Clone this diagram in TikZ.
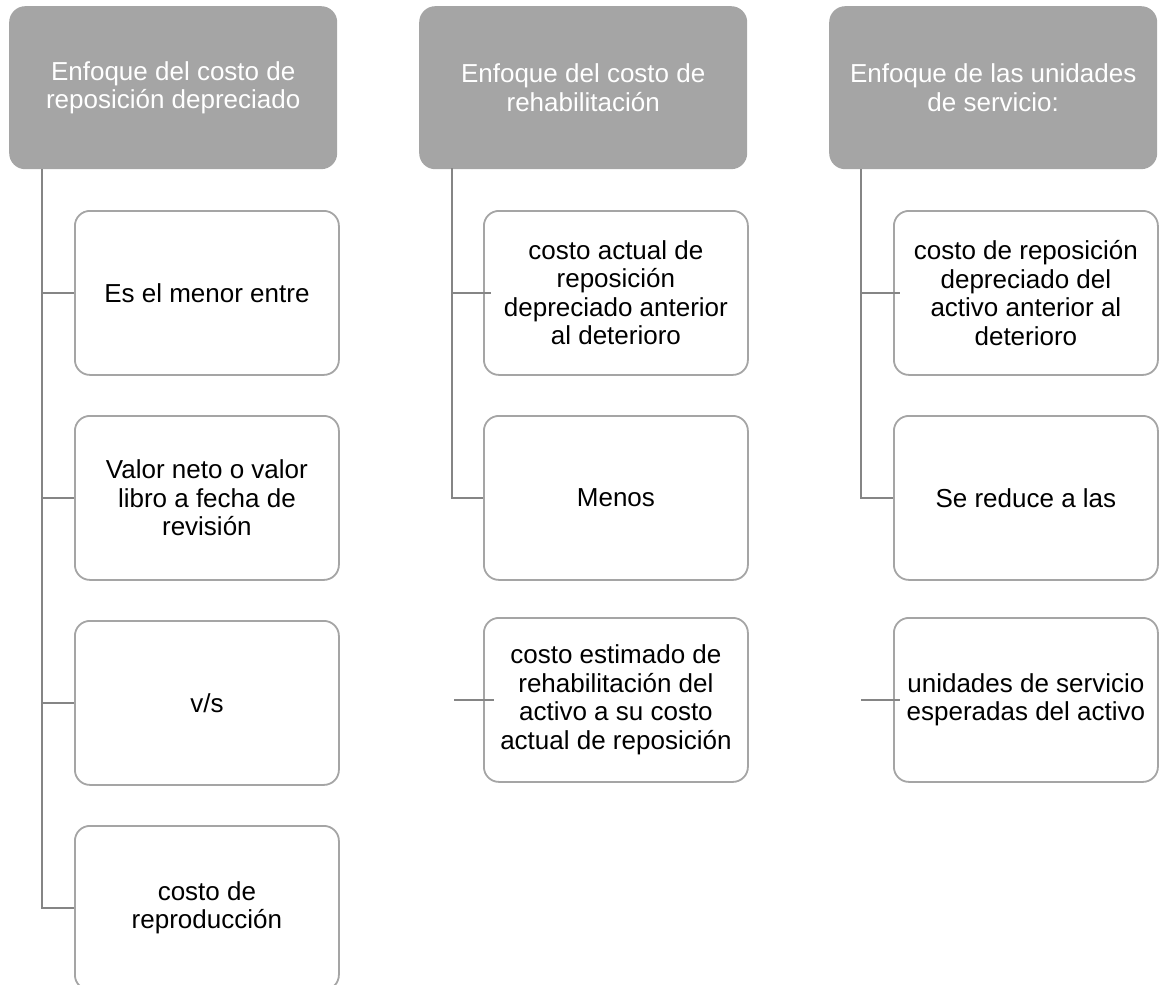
\documentclass[tikz,border=0pt]{standalone}
\usepackage{fontspec}
\setmainfont{Liberation Sans}
\definecolor{hdrfill}{HTML}{A5A5A5}
\definecolor{boxline}{HTML}{A5A5A5}
\definecolor{connline}{HTML}{858585}
\begin{document}
\begin{tikzpicture}[x=1pt,y=-1pt]
\tikzset{
  hdrbox/.style={fill=hdrfill, draw=none, rounded corners=16pt, minimum width=328pt,
    minimum height=163pt, text=white, align=center, inner sep=0pt,
    font=\fontsize{26}{28.5}\selectfont, anchor=north west},
  itembox/.style={draw=boxline, line width=1.8pt, fill=white, rounded corners=15pt,
    minimum width=264pt, minimum height=164pt, align=center, inner sep=0pt,
    font=\fontsize{26}{28.5}\selectfont, anchor=north west},
  connector/.style={draw=connline, line width=1.8pt}
}
\useasboundingbox (0,0) rectangle (1159,985);
\begin{scope}
\clip (0,0) rectangle (1159,985);
% headers
\node[hdrbox] (h1) at (9,6) {Enfoque del costo de\\reposición depreciado};
\node[hdrbox] (h2) at (419,6) {Enfoque del costo de\\rehabilitación};
\node[hdrbox] (h3) at (829,6) {Enfoque de las unidades\\de servicio:};
% column 1
\node[itembox] (a1) at (74,210) {Es el menor entre};
\node[itembox] (a2) at (74,415) {Valor neto o valor\\libro a fecha de\\revisión};
\node[itembox] (a3) at (74,620) {v/s};
\node[itembox] (a4) at (74,825) {costo de\\reproducción};
% column 2
\node[itembox] (b1) at (483,210) {costo actual de\\reposición\\depreciado anterior\\al deterioro};
\node[itembox] (b2) at (483,415) {Menos};
\node[itembox] (b3) at (483,617) {costo estimado de\\rehabilitación del\\activo a su costo\\actual de reposición};
% column 3
\node[itembox] (c1) at (893,210) {costo de reposición\\depreciado del\\activo anterior al\\deterioro};
\node[itembox] (c2) at (893,415) {Se reduce a las};
\node[itembox] (c3) at (893,617) {unidades de servicio\\esperadas del activo};
% trunks
\coordinate (t1) at (42,169);
\coordinate (t2) at (452,168);
\coordinate (t3) at (861,169);
\draw[connector] (t1) |- (a4.west);
\draw[connector] (a1.west -| t1) -- (a1.west);
\draw[connector] (a2.west -| t1) -- (a2.west);
\draw[connector] (a3.west -| t1) -- (a3.west);
\draw[connector] (t2) |- (b2.west);
\draw[connector] (b1.west -| t2) -- ([xshift=8pt]b1.west);
\draw[connector] ([xshift=2pt]b3.west -| t2) -- ([xshift=11pt]b3.west);
\draw[connector] (t3) |- (c2.west);
\draw[connector] (c1.west -| t3) -- ([xshift=7pt]c1.west);
\draw[connector] (c3.west -| t3) -- ([xshift=7pt]c3.west);
\end{scope}
\end{tikzpicture}
\end{document}
